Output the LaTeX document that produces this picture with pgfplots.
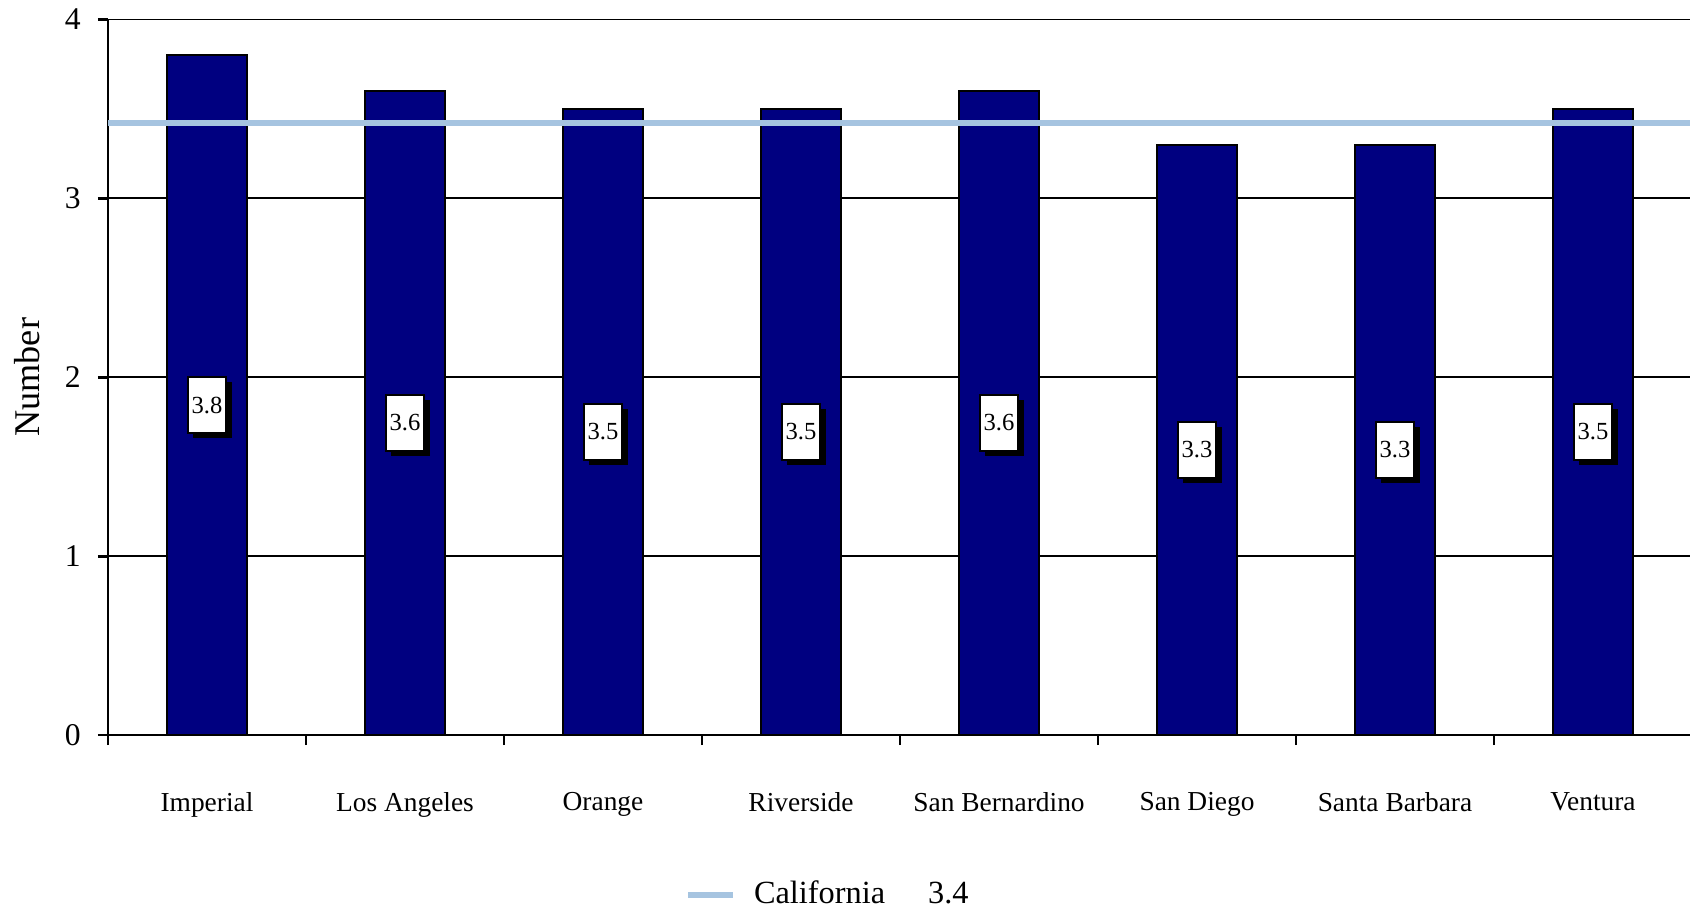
\documentclass[border=0pt]{standalone}
\usepackage{pgfplots}
\pgfplotsset{compat=1.18}
\usepackage{pgfplotstable}
\usepackage{fontspec}
\setmainfont{Liberation Serif}
\usetikzlibrary{shadows}
\definecolor{barblue}{HTML}{000080}
\definecolor{calblue}{HTML}{A6C4E0}

\pgfplotstableread{
x y
0 3.8
1 3.6
2 3.5
3 3.5
4 3.6
5 3.3
6 3.3
7 3.5
}\datatable

\begin{document}
\begin{tikzpicture}
\useasboundingbox (0,0) rectangle (16.9cm,9.1cm);
\clip (0,0) rectangle (16.9cm,9.1cm);
\begin{axis}[
  scale only axis,
  width=15.84cm, height=7.156cm,
  at={(1.08cm,1.75cm)}, anchor=south west,
  xmin=-0.5, xmax=7.5, ymin=0, ymax=4,
  axis x line*=bottom, axis y line*=left,
  axis line style={line width=0.8pt, black},
  ytick={0,1,2,3,4},
  ymajorgrids,
  grid style={black, line width=0.5pt},
  xtick={-0.5,0.5,...,7.5},
  xticklabels={},
  extra x ticks={0,1,2,3,4,5,6,7},
  extra x tick labels={Imperial,Los Angeles,Orange,Riverside,San Bernardino,San Diego,Santa Barbara,Ventura},
  extra x tick style={major tick length=0pt, grid=none,
     tick label style={yshift=-4.5mm, font=\fontsize{7.8}{9}\selectfont}},
  tick align=outside,
  major tick length=1mm,
  tick style={black, line width=0.8pt},
  yticklabel style={font=\fontsize{9}{10}\selectfont, xshift=-0.5mm},
  /pgf/number format/assume math mode=true,
  ylabel={Number},
  every axis y label/.style={at={(axis description cs:-0.0511,0.5)}, rotate=90, anchor=center,
     font=\fontsize{10.3}{12}\selectfont},
  legend style={at={(axis description cs:0.456,-0.223)}, anchor=center, draw=none,
     font=\fontsize{9.2}{11}\selectfont, /tikz/every even column/.append style={column sep=0pt}},
  legend image code/.code={\draw[#1, line width=1.7pt] (0cm,0cm) -- (0.45cm,0cm);},
  clip=false,
]
\addplot[ybar, bar width=8mm, fill=barblue, draw=black, line width=0.6pt, forget plot]
  table[x=x, y=y] {\datatable};
\addplot[calblue, line width=1.7pt] coordinates {(-0.5,3.42) (7.5,3.42)};
\addlegendentry{\hspace{1.1mm}California\hspace{4.3mm}3.4}
\addplot[draw=none, mark=none, forget plot, point meta=explicit,
  nodes near coords={\pgfmathprintnumber[fixed,fixed zerofill,precision=1,assume math mode=true]{\pgfplotspointmeta}},
  nodes near coords style={draw=black, fill=white, line width=0.5pt, anchor=center,
     minimum width=11pt, minimum height=16pt, inner sep=1pt, yshift=-1mm,
     font=\fontsize{7}{8}\selectfont,
     drop shadow={shadow xshift=1.5pt, shadow yshift=-1.5pt, fill=black, opacity=1}}]
  table[x=x, y expr=\thisrow{y}/2, meta=y] {\datatable};
\end{axis}
\end{tikzpicture}
\end{document}
